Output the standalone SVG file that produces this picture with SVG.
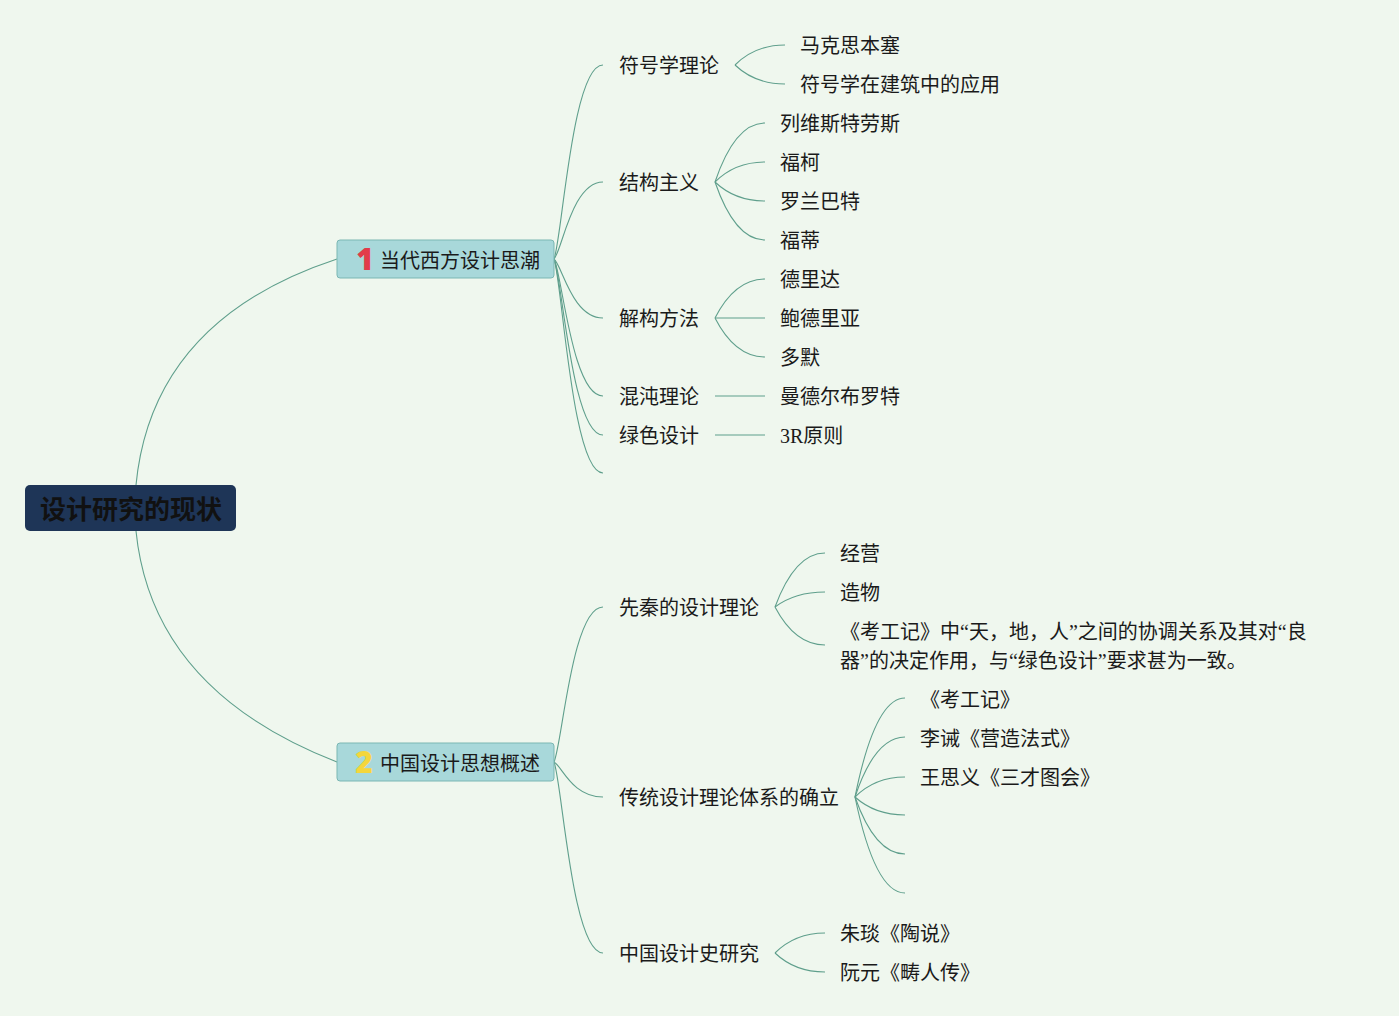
<svg xmlns="http://www.w3.org/2000/svg" width="1399" height="1016" viewBox="0 0 1399 1016">
<style>
.t{font-family:"Noto Sans CJK SC","Noto Sans",sans-serif;font-size:20px;fill:#1a1a1a}
.q{font-family:"Liberation Serif",serif}
.c{fill:none;stroke:#5f9f8c;stroke-width:1.1}
.main{fill:#a8d8da;stroke:#7ab7b3;stroke-width:1}
.root-t{font-family:"Noto Sans CJK SC","Noto Sans",sans-serif;font-size:26px;font-weight:bold;fill:#111}
.num{font-family:"Noto Sans","Roboto",sans-serif;font-size:30px;font-weight:900}
</style>
<rect width="1399" height="1016" fill="#eff7ee"/>
<g id="connectors">
<path class="c" d="M136,485 Q152,320 337,259"/>
<path class="c" d="M136,531 Q152,690 337,762"/>
<path class="c" d="M554,259 C562,240 572,65 603,65"/>
<path class="c" d="M554,259 C562,251 572,182 603,182"/>
<path class="c" d="M554,259 C562,265 572,318 603,318"/>
<path class="c" d="M554,259 C562,273 572,396 603,396"/>
<path class="c" d="M554,259 C562,277 572,435 603,435"/>
<path class="c" d="M554,259 C562,280 572,473 603,473"/>
<path class="c" d="M554,762 C562,746 572,607 603,607"/>
<path class="c" d="M554,762 C562,766 572,797 603,797"/>
<path class="c" d="M554,762 C562,781 572,953 603,953"/>
<path class="c" d="M735,65 Q755,45 785,45"/>
<path class="c" d="M735,65 Q755,84 785,84"/>
<path class="c" d="M715,182 Q735,123 765,123"/>
<path class="c" d="M715,182 Q735,162 765,162"/>
<path class="c" d="M715,182 Q735,201 765,201"/>
<path class="c" d="M715,182 Q735,240 765,240"/>
<path class="c" d="M715,318 Q735,279 765,279"/>
<path class="c" d="M715,318 L765,318"/>
<path class="c" d="M715,318 Q735,357 765,357"/>
<path class="c" d="M715,396 L765,396"/>
<path class="c" d="M715,435 L765,435"/>
<path class="c" d="M775,607 Q795,553 825,553"/>
<path class="c" d="M775,607 Q795,592 825,592"/>
<path class="c" d="M775,607 Q795,645 825,645"/>
<path class="c" d="M855,797 Q875,698 905,698"/>
<path class="c" d="M855,797 Q875,737 905,737"/>
<path class="c" d="M855,797 Q875,777 905,777"/>
<path class="c" d="M855,797 Q875,815 905,815"/>
<path class="c" d="M855,797 Q875,854 905,854"/>
<path class="c" d="M855,797 Q875,893 905,893"/>
<path class="c" d="M775,953 Q795,933 825,933"/>
<path class="c" d="M775,953 Q795,972 825,972"/>
</g>
<g id="root">
<rect x="25" y="485" width="211" height="46" rx="5" fill="#1e3557"/>
<text class="root-t" x="131" y="519" text-anchor="middle">设计研究的现状</text>
</g>
<g id="main1">
<rect class="main" x="337" y="240" width="217" height="38" rx="3"/>
<text class="num" x="365" y="270" text-anchor="middle" fill="#e23b4a">1</text>
<text class="t" x="380" y="268">当代西方设计思潮</text>
</g>
<g id="main2">
<rect class="main" x="337" y="743" width="217" height="38" rx="3"/>
<text class="num" x="364" y="773" text-anchor="middle" fill="#f4d63c">2</text>
<text class="t" x="380" y="771">中国设计思想概述</text>
</g>
<g id="n-fuhao"><text class="t" x="619" y="73">符号学理论</text></g>
<g id="n-jiegou"><text class="t" x="619" y="190">结构主义</text></g>
<g id="n-jiegoufa"><text class="t" x="619" y="326">解构方法</text></g>
<g id="n-hundun"><text class="t" x="619" y="404">混沌理论</text></g>
<g id="n-lvse"><text class="t" x="619" y="443">绿色设计</text></g>
<g id="n-makesi"><text class="t" x="800" y="53">马克思本塞</text></g>
<g id="n-fuhaojz"><text class="t" x="800" y="92">符号学在建筑中的应用</text></g>
<g id="n-liewei"><text class="t" x="780" y="131">列维斯特劳斯</text></g>
<g id="n-fuke"><text class="t" x="780" y="170">福柯</text></g>
<g id="n-luolan"><text class="t" x="780" y="209">罗兰巴特</text></g>
<g id="n-fudi"><text class="t" x="780" y="248">福蒂</text></g>
<g id="n-delida"><text class="t" x="780" y="287">德里达</text></g>
<g id="n-baode"><text class="t" x="780" y="326">鲍德里亚</text></g>
<g id="n-duomo"><text class="t" x="780" y="365">多默</text></g>
<g id="n-mande"><text class="t" x="780" y="404">曼德尔布罗特</text></g>
<g id="n-3r"><text class="t" x="780" y="443"><tspan class="q">3R</tspan>原则</text></g>
<g id="n-xianqin"><text class="t" x="619" y="615">先秦的设计理论</text></g>
<g id="n-chuantong"><text class="t" x="619" y="805">传统设计理论体系的确立</text></g>
<g id="n-shiyanjiu"><text class="t" x="619" y="961">中国设计史研究</text></g>
<g id="n-jingying"><text class="t" x="840" y="561">经营</text></g>
<g id="n-zaowu"><text class="t" x="840" y="600">造物</text></g>
<g id="n-kaogongji-desc"><text class="t" x="840" y="639">《考工记》中<tspan class="q">“</tspan>天，地，人<tspan class="q">”</tspan>之间的协调关系及其对<tspan class="q">“</tspan>良</text><text class="t" x="840" y="668">器<tspan class="q">”</tspan>的决定作用，与<tspan class="q">“</tspan>绿色设计<tspan class="q">”</tspan>要求甚为一致。</text></g>
<g id="n-kaogongji"><text class="t" x="920" y="707">《考工记》</text></g>
<g id="n-licheng"><text class="t" x="920" y="746">李诫《营造法式》</text></g>
<g id="n-wangsiyi"><text class="t" x="920" y="785">王思义《三才图会》</text></g>
<g id="n-zhuyan"><text class="t" x="840" y="941">朱琰《陶说》</text></g>
<g id="n-ruanyuan"><text class="t" x="840" y="980">阮元《畴人传》</text></g>
</svg>
